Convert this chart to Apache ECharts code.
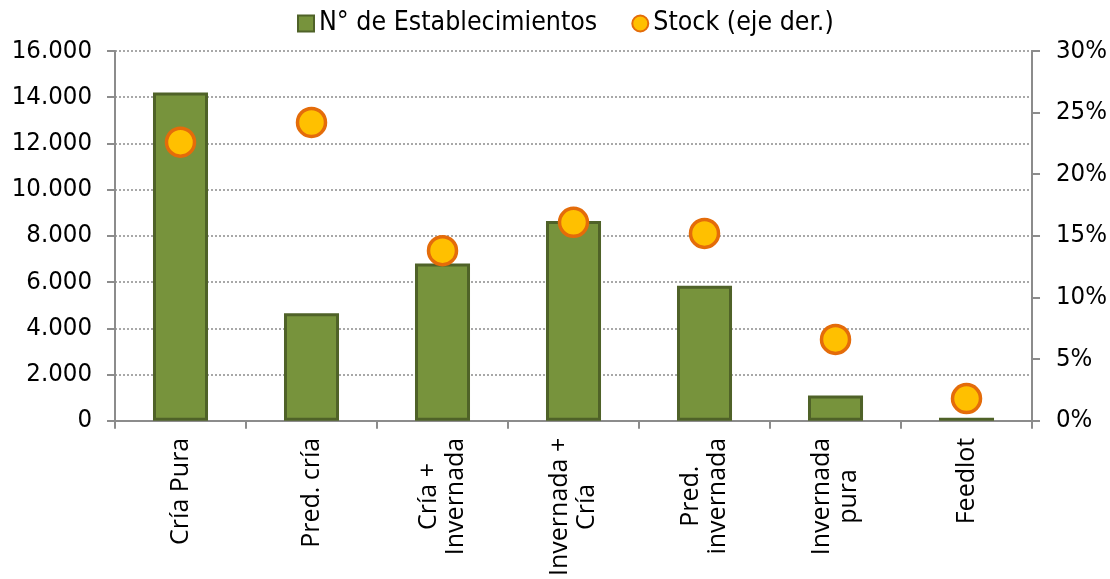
<!DOCTYPE html>
<html>
<head>
<meta charset="utf-8">
<script src="https://cdn.jsdelivr.net/npm/echarts@6/dist/echarts.min.js"></script>
<style>
    html, body { margin: 0; padding: 0; background: #fff; }
    #chart { width: 1110px; height: 579px; }
</style>
</head>
<body>
<div id="chart"></div>
<script>
// datos
const categories = ['Cría Pura', 'Pred. cría', 'Cría +\nInvernada', 'Invernada +\nCría', 'Pred.\ninvernada', 'Invernada\npura', 'Feedlot']
const establecimientos = [14200, 4650, 6800, 8640, 5840, 1090, 130]
const stock = [22.6, 24.2, 13.8, 16.1, 15.2, 6.6, 1.8]
const seriesNames = ['N° de Establecimientos', 'Stock (eje der.)']

const FONT = "'Open Sans', sans-serif"
const LABEL_FONT = "'DejaVu Sans Condensed', 'DejaVu Sans', sans-serif"

// 16000 -> 16.000
function miles(v) {
    return String(v).replace(/\B(?=(\d{3})+(?!\d))/g, '.')
}

const option = {
    animation: false,
    backgroundColor: '#fff',
    grid: {
        left: 115,
        right: 73,
        top: 51,
        bottom: 157,
        containLabel: false
    },
    legend: {
        top: 5,
        left: 292,
        itemWidth: 16,
        itemHeight: 16,
        itemGap: 34,
        selectedMode: false,
        data: [
            { name: seriesNames[0], icon: 'rect' },
            { name: seriesNames[1], icon: 'circle' }
        ],
        textStyle: {
            fontFamily: LABEL_FONT,
            fontSize: 26.5,
            color: '#000'
        }
    },
    xAxis: {
        type: 'category',
        data: categories,
        axisLine: { lineStyle: { color: '#8c8c8c', width: 2 } },
        axisTick: { show: true, length: 8, lineStyle: { color: '#8c8c8c', width: 2 } },
        axisLabel: {
            rotate: 90,
            margin: 17,
            interval: 0,
            formatter: (value) => value.split('\n').map(l => '{a|' + l + '}').join('\n'),
            rich: {
                a: {
                    align: 'center',
                    fontFamily: FONT,
                    fontSize: 25,
                    lineHeight: 27,
                    color: '#000'
                }
            }
        }
    },
    yAxis: [{
        type: 'value',
        min: 0,
        max: 16000,
        interval: 2000,
        axisLine: { show: true, lineStyle: { color: '#8c8c8c', width: 2 } },
        axisTick: { show: true, length: 8, lineStyle: { color: '#8c8c8c', width: 2 } },
        axisLabel: {
            margin: 23,
            fontFamily: LABEL_FONT,
            fontSize: 25.5,
            color: '#000',
            formatter: miles
        },
        splitLine: {
            lineStyle: { color: '#8c8c8c', type: [2, 2], width: 1.5 }
        }
    }, {
        type: 'value',
        min: 0,
        max: 30,
        interval: 5,
        position: 'right',
        axisLine: { show: true, lineStyle: { color: '#8c8c8c', width: 2 } },
        axisTick: { show: true, length: 8, lineStyle: { color: '#8c8c8c', width: 2 } },
        axisLabel: {
            margin: 24,
            fontFamily: LABEL_FONT,
            fontSize: 25.5,
            color: '#000',
            formatter: '{value}%'
        },
        splitLine: { show: false }
    }],
    series: [{
        name: seriesNames[0],
        type: 'bar',
        data: establecimientos,
        barWidth: '42%',
        itemStyle: {
            color: '#77933c',
            borderColor: '#4f6228',
            borderWidth: 3
        }
    }, {
        name: seriesNames[1],
        type: 'scatter',
        yAxisIndex: 1,
        data: stock,
        symbol: 'circle',
        symbolSize: 28,
        itemStyle: {
            color: '#ffc000',
            borderColor: '#e46c0a',
            borderWidth: 3.5,
            opacity: 1
        }
    }]
}

try {
    const chart = echarts.init(document.getElementById('chart'))
    chart.setOption(option, true)
} catch (e) {}
</script>
</body>
</html>
